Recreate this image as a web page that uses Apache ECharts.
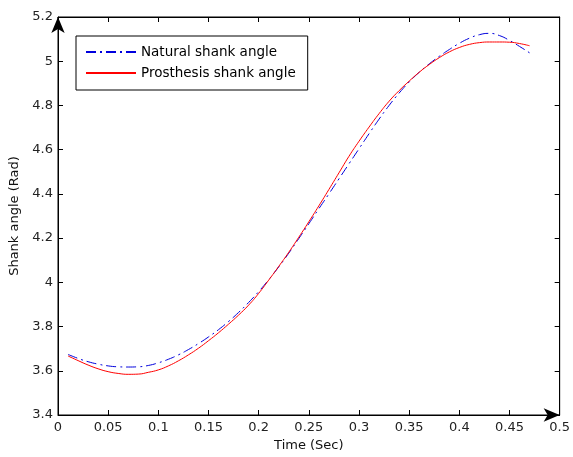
<!DOCTYPE html>
<html>
<head>
<meta charset="utf-8">
<script src="https://cdn.jsdelivr.net/npm/echarts@6/dist/echarts.min.js"></script>
<style>
html,body{margin:0;padding:0;background:#fff;}
#chart{width:573px;height:457px;}
</style>
</head>
<body>
<div id="chart"></div>
<script>
var times = [0.01,0.02,0.03,0.04,0.05,0.06,0.07,0.08,0.09,0.10,
             0.11,0.12,0.13,0.14,0.15,0.16,0.17,0.18,0.19,0.20,
             0.21,0.22,0.23,0.24,0.25,0.26,0.27,0.28,0.29,0.30,
             0.31,0.32,0.33,0.34,0.35,0.36,0.37,0.38,0.39,0.40,
             0.41,0.42,0.43,0.44,0.45,0.46,0.47];
var naturalAngle = [3.674,3.656,3.641,3.630,3.622,3.618,3.617,3.618,3.624,3.636,
                    3.652,3.672,3.696,3.723,3.753,3.786,3.823,3.864,3.909,3.958,
                    4.012,4.070,4.132,4.198,4.265,4.333,4.400,4.468,4.536,4.604,
                    4.672,4.738,4.800,4.856,4.906,4.950,4.988,5.022,5.053,5.081,
                    5.104,5.120,5.126,5.116,5.094,5.067,5.038];
var prosthesisAngle = [3.667,3.646,3.626,3.609,3.596,3.588,3.584,3.585,3.593,3.604,
                       3.622,3.645,3.672,3.702,3.736,3.772,3.811,3.852,3.897,3.950,
                       4.010,4.072,4.136,4.204,4.274,4.346,4.420,4.495,4.570,4.638,
                       4.702,4.763,4.819,4.867,4.910,4.950,4.985,5.016,5.042,5.062,
                       5.076,5.084,5.087,5.087,5.086,5.080,5.070];
var xTicks = {min:0, max:0.5, interval:0.05};
var yTicks = {min:3.4, max:5.2, interval:0.2};

function pairs(xs, ys){ return xs.map(function(x,i){ return [x, ys[i]]; }); }

var font = 'DejaVu Sans, Verdana, sans-serif';
var chart = echarts.init(document.getElementById('chart'), null, {renderer:'canvas'});
chart.setOption({
  animation:false,
  backgroundColor:'#fff',
  grid:{left:58, right:10, top:17, bottom:41, show:true, borderColor:'#000', borderWidth:1, backgroundColor:'transparent'},
  legend:{
    orient:'vertical', left:76, top:36,
    itemWidth:50, itemHeight:14, itemGap:7,
    padding:[9,12,10,9],
    borderColor:'#000', borderWidth:1, backgroundColor:'#fff',
    itemStyle:{opacity:0},
    lineStyle:{opacity:1},
    textStyle:{fontFamily:font, fontSize:13.5, color:'#000'},
    data:['Natural shank angle','Prosthesis shank angle']
  },
  xAxis:[{
    type:'value', min:xTicks.min, max:xTicks.max, interval:xTicks.interval,
    position:'bottom',
    name:'Time (Sec)', nameLocation:'middle', nameGap:24,
    nameTextStyle:{fontFamily:font, fontSize:13, color:'#111'},
    axisLine:{show:true, onZero:false, lineStyle:{color:'#000', width:1}, symbol:['none','arrow'], symbolSize:[10,16]},
    axisTick:{show:true, inside:true, length:5, lineStyle:{color:'#000'}},
    axisLabel:{margin:6, fontFamily:font, fontSize:13, color:'#222', formatter:function(v){return String(+v.toFixed(2));}},
    splitLine:{show:false}
  },{
    type:'value', min:xTicks.min, max:xTicks.max, interval:xTicks.interval,
    position:'top',
    axisLine:{show:true, onZero:false, lineStyle:{color:'#000', width:1}},
    axisTick:{show:true, inside:true, length:5, lineStyle:{color:'#000'}},
    axisLabel:{show:false}, splitLine:{show:false}
  }],
  yAxis:[{
    type:'value', min:yTicks.min, max:yTicks.max, interval:yTicks.interval,
    position:'left',
    name:'Shank angle (Rad)', nameLocation:'middle', nameGap:37,
    nameTextStyle:{fontFamily:font, fontSize:13, color:'#111'},
    axisLine:{show:true, onZero:false, lineStyle:{color:'#000', width:1}, symbol:['none','arrow'], symbolSize:[10,16]},
    axisTick:{show:true, inside:true, length:5, lineStyle:{color:'#000'}},
    axisLabel:{margin:5, fontFamily:font, fontSize:13, color:'#222', formatter:function(v){return String(+v.toFixed(1));}},
    splitLine:{show:false}
  },{
    type:'value', min:yTicks.min, max:yTicks.max, interval:yTicks.interval,
    position:'right',
    axisLine:{show:true, onZero:false, lineStyle:{color:'#000', width:1}},
    axisTick:{show:true, inside:true, length:5, lineStyle:{color:'#000'}},
    axisLabel:{show:false}, splitLine:{show:false}
  }],
  series:[{
    name:'Natural shank angle', type:'line', xAxisIndex:0, yAxisIndex:0,
    data:pairs(times, naturalAngle), smooth:true, showSymbol:false, symbol:'none',
    itemStyle:{color:'#0000dd'},
    lineStyle:{color:'#0000dd', width:1, type:[10,4,2,4]}
  },{
    name:'Prosthesis shank angle', type:'line', xAxisIndex:0, yAxisIndex:0,
    data:pairs(times, prosthesisAngle), smooth:true, showSymbol:false, symbol:'none',
    itemStyle:{color:'#ff0000'},
    lineStyle:{color:'#ff0000', width:1}
  }]
});
</script>
</body>
</html>
